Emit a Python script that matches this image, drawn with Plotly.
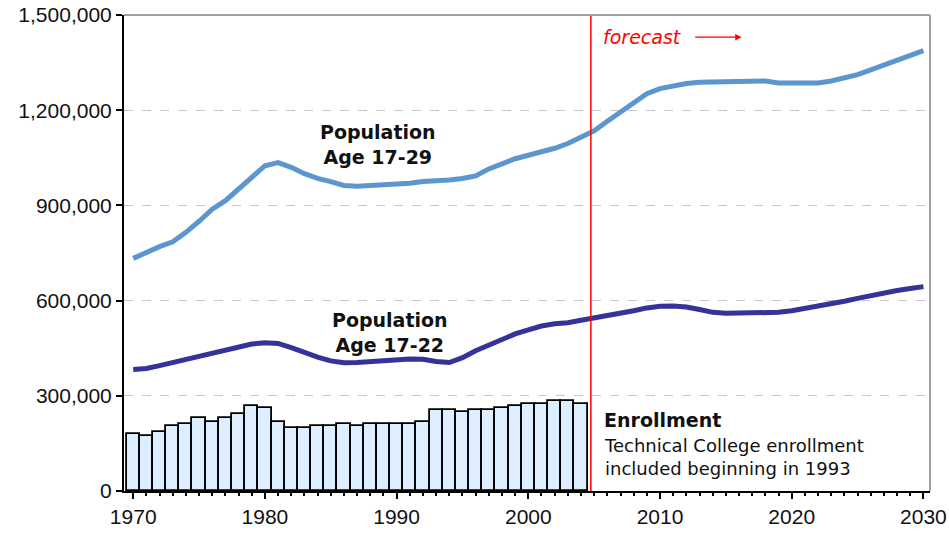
import plotly.graph_objects as go

# enrollment (bars), 1970-2004
enroll_years = list(range(1970, 2005))
enrollment = [180000, 173000, 187000, 204000, 212000, 230000, 218000, 230000, 244000, 268000,
              260000, 218000, 198000, 198000, 204000, 204000, 212000, 204000, 211000, 211000,
              211000, 211000, 219000, 254000, 254000, 249000, 254000, 254000, 261000, 268000,
              274000, 274000, 285000, 285000, 274000]

# population series, 1970-2030
pop_years = list(range(1970, 2031))
pop_17_29 = [733000, 752000, 770000, 785000, 815000, 850000, 888000, 915000, 950000, 990000,
             1025000, 1035000, 1020000, 1000000, 985000, 975000, 963000, 960000, 962000, 963000,
             965000, 970000, 975000, 977000, 980000, 985000, 993000, 1015000, 1033000, 1047000,
             1058000, 1068000, 1080000, 1095000, 1115000, 1135000, 1165000, 1195000, 1222000, 1252000,
             1268000, 1278000, 1284000, 1288000, 1289000, 1289000, 1290000, 1292000, 1292000, 1286000,
             1285000, 1285000, 1286000, 1292000, 1300000, 1312000, 1327000, 1342000, 1357000, 1372000,
             1388000]
pop_17_22 = [383000, 386000, 395000, 405000, 415000, 425000, 435000, 445000, 455000, 463000,
             467000, 465000, 452000, 436000, 422000, 410000, 404000, 405000, 408000, 410000,
             413000, 416000, 415000, 408000, 405000, 420000, 442000, 460000, 478000, 495000,
             508000, 520000, 527000, 530000, 538000, 545000, 552000, 560000, 568000, 577000,
             582000, 583000, 580000, 572000, 563000, 560000, 560000, 560000, 560000, 563000,
             568000, 575000, 582000, 590000, 598000, 607000, 616000, 624000, 632000, 638000,
             644000]

forecast_start = 2004.75

fig = go.Figure()

fig.add_trace(go.Bar(x=enroll_years, y=enrollment,
                     marker=dict(color="#ddeeff", line=dict(color="#000000", width=1.8)),
                     showlegend=False))
fig.add_trace(go.Scatter(x=pop_years, y=pop_17_29, mode="lines",
                         line=dict(color="#5b96cf", width=5), showlegend=False))
fig.add_trace(go.Scatter(x=pop_years, y=pop_17_22, mode="lines",
                         line=dict(color="#333399", width=5), showlegend=False))

# forecast divider
fig.add_shape(type="line", xref="x", yref="paper", x0=forecast_start, x1=forecast_start,
              y0=0, y1=1, line=dict(color="#ff0000", width=1.5))
# gray frame on top and right
fig.add_shape(type="line", xref="paper", yref="paper", x0=0, x1=1, y0=1, y1=1,
              line=dict(color="#a0a0a0", width=2))
fig.add_shape(type="line", xref="paper", yref="paper", x0=1, x1=1, y0=0, y1=1,
              line=dict(color="#a0a0a0", width=2))

lbl = dict(family="DejaVu Sans", size=19, color="#111111")
fig.add_annotation(x=1988.6, y=1092000, text="<b>Population<br>Age 17-29</b>",
                   showarrow=False, font=lbl, align="center")
fig.add_annotation(x=1989.5, y=499000, text="<b>Population<br>Age 17-22</b>",
                   showarrow=False, font=lbl, align="center")
fig.add_annotation(x=2005.6, y=224000, text="<b>Enrollment</b>", xanchor="left",
                   showarrow=False, font=lbl, align="left")
fig.add_annotation(x=2005.6, y=106000, xanchor="left", align="left", showarrow=False,
                   text="Technical College enrollment<br>included beginning in 1993",
                   font=dict(family="DejaVu Sans", size=18, color="#111111"))
fig.add_annotation(x=2005.5, y=1430000, xanchor="left", text="<i>forecast</i>", showarrow=False,
                   font=dict(family="DejaVu Sans", size=19, color="#ff0000"))
fig.add_annotation(x=2016.2, y=1430000, ax=-48, ay=0, text="", showarrow=True,
                   arrowhead=2, arrowsize=1, arrowwidth=1.3, arrowcolor="#ff0000")

fig.update_layout(
    width=949, height=538,
    margin=dict(l=124, r=19, t=15, b=47),
    paper_bgcolor="white", plot_bgcolor="white",
    bargap=0,
    font=dict(family="Liberation Sans", size=21, color="#111111"),
)
fig.update_xaxes(range=[1969.3, 2030.5], tickmode="linear", tick0=1970, dtick=10,
                 automargin=False, ticklabeloverflow="allow",
                 showgrid=False, zeroline=False, showline=True, linecolor="#000000", linewidth=2,
                 ticks="outside", ticklen=6, tickcolor="#000000", tickwidth=2,
                 minor=dict(dtick=1, ticks="outside", ticklen=3, tickcolor="#000000", tickwidth=1.5))
fig.update_yaxes(range=[0, 1500000], tickmode="linear", tick0=0, dtick=300000, tickformat=",",
                 automargin=False, ticklabeloverflow="allow",
                 showgrid=True, gridcolor="#c8c8c8", griddash="dash", gridwidth=1,
                 zeroline=False, showline=True, linecolor="#000000", linewidth=2,
                 ticks="outside", ticklen=6, tickcolor="#000000", tickwidth=2)

# drop the browser's default 8px body margin so the figure fills the window
fig.write_html("out.html", config={"displayModeBar": False},
               post_script="document.body.style.margin='0';")
